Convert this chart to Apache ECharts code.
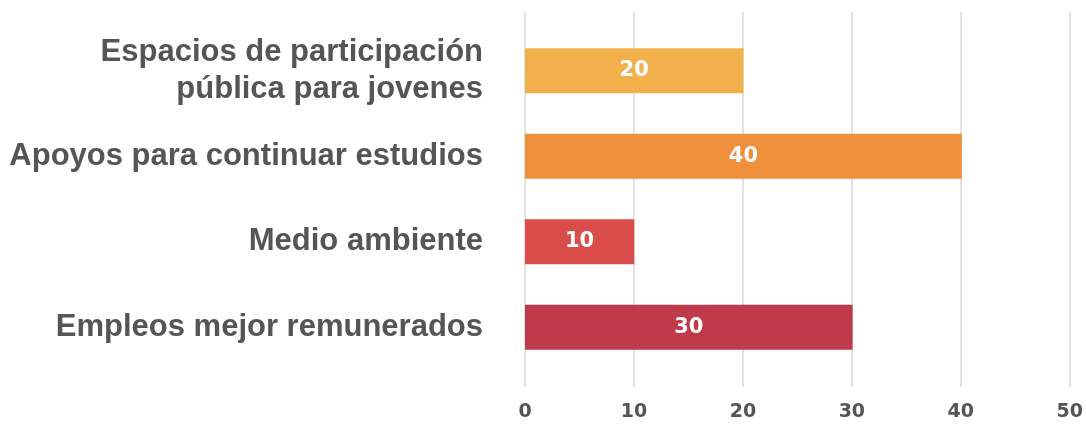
<!DOCTYPE html>
<html>
<head>
<meta charset="utf-8">
<script src="https://cdn.jsdelivr.net/npm/echarts@6/dist/echarts.min.js"></script>
<style>html,body{margin:0;padding:0;background:#fff}#c{width:1086px;height:425px}</style>
</head>
<body>
<div id="c"></div>
<script>
const categories = ["Espacios de participación\npública para jovenes", "Apoyos para continuar estudios", "Medio ambiente", "Empleos mejor remunerados"];
const values = [20, 40, 10, 30];
const barColors = ["#F2B04C", "#EF8E3B", "#DB4D4B", "#BF3A4B"];
const xTicks = [0, 10, 20, 30, 40, 50];

const chart = echarts.init(document.getElementById('c'), null, {renderer: 'canvas'});
const L = 525, R = 15;
chart.setOption({
  animation: false,
  backgroundColor: '#fff',
  grid: [
    {left: L, right: R, top: 28, bottom: 55},
    {left: L, right: R, top: 12, bottom: 38}
  ],
  xAxis: [
    {gridIndex: 0, type: 'value', min: xTicks[0], max: xTicks[xTicks.length-1], interval: 10,
     axisLine: {show: false}, axisTick: {show: false}, axisLabel: {show: false}, splitLine: {show: false}},
    {gridIndex: 1, type: 'value', min: xTicks[0], max: xTicks[xTicks.length-1], interval: 10,
     axisLine: {show: false}, axisTick: {show: false},
     axisLabel: {color: '#555', fontSize: 19, fontWeight: 'bold', fontFamily: 'DejaVu Sans', margin: 16},
     splitLine: {show: true, lineStyle: {color: '#e2e2e2', width: 2}}}
  ],
  yAxis: [
    {gridIndex: 0, type: 'category', inverse: true, data: categories,
     axisLine: {show: false}, axisTick: {show: false}, splitLine: {show: false},
     axisLabel: {color: '#555', fontSize: 31, lineHeight: 37, fontWeight: 'bold', fontFamily: 'Liberation Sans', margin: 42, align: 'right'}},
    {gridIndex: 1, type: 'category', data: [''], show: false}
  ],
  series: [{
    type: 'bar', xAxisIndex: 0, yAxisIndex: 0, barWidth: 45,
    data: values.map((v, i) => ({value: v, itemStyle: {color: barColors[i]}})),
    label: {show: true, position: 'inside', color: '#fff', fontSize: 21, fontWeight: 'bold', fontFamily: 'DejaVu Sans'}
  }]
});
</script>
</body>
</html>
